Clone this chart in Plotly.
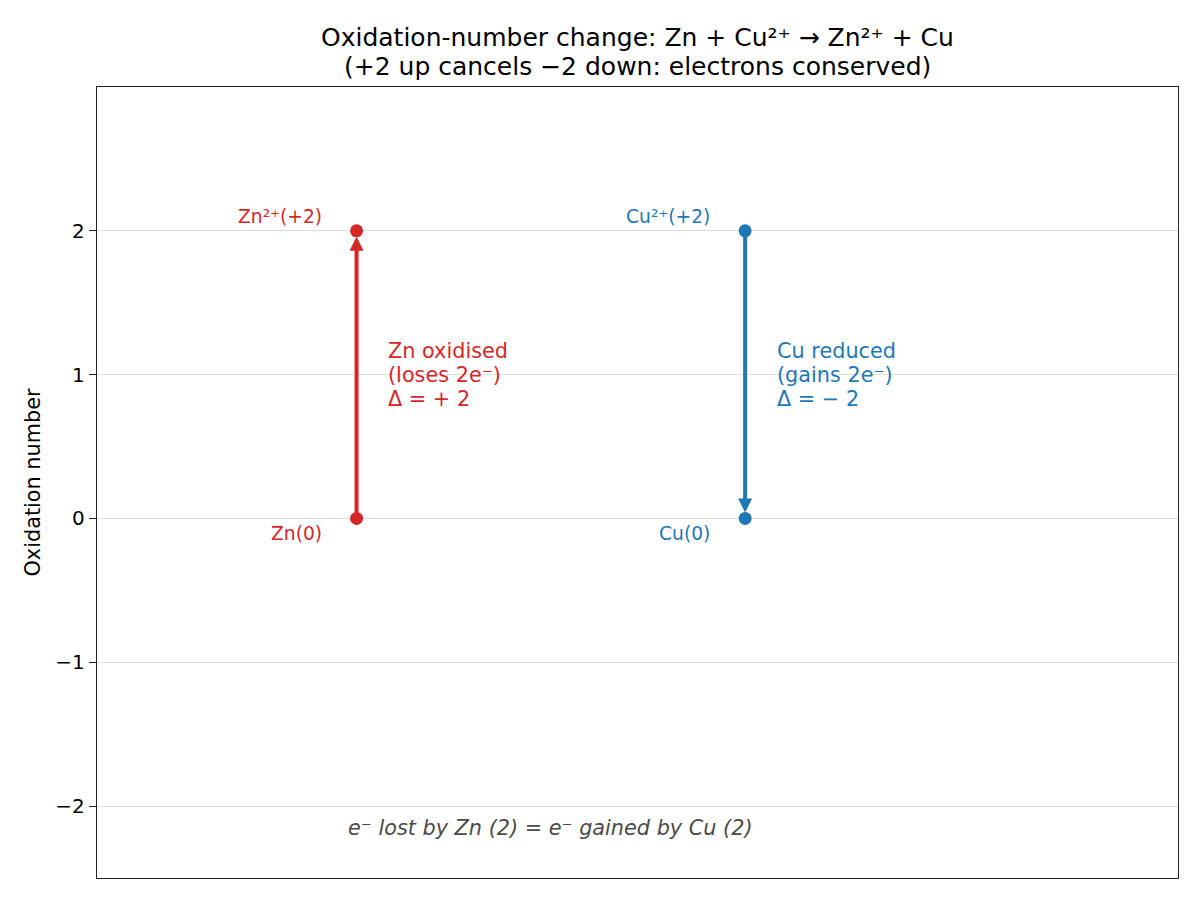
import plotly.graph_objects as go

# ---- data ----
species = ["Zn", "Cu"]
x_pos = [0, 1]
ox_start = [0, 2]          # oxidation number before
ox_end = [2, 0]            # oxidation number after
top_labels = ["Zn²⁺(+2)", "Cu²⁺(+2)"]
bottom_labels = ["Zn(0)", "Cu(0)"]
side_lines = [
    ["Zn oxidised", "(loses 2e⁻)", "Δ = + 2"],
    ["Cu reduced", "(gains 2e⁻)", "Δ = − 2"],
]
series_colors = ["#d62728", "#1f77b4"]
y_ticks = [-2, -1, 0, 1, 2]
y_tick_text = ["−2", "−1", "0", "1", "2"]
title_lines = ["Oxidation-number change: Zn + Cu²⁺ → Zn²⁺ + Cu",
               "(+2 up cancels −2 down: electrons conserved)"]
footer = "e⁻ lost by Zn (2) = e⁻ gained by Cu (2)"

FONT = "DejaVu Sans"

fig = go.Figure()
annotations = []

for i, name in enumerate(species):
    c = series_colors[i]
    x = x_pos[i]
    fig.add_trace(go.Scatter(
        x=[x, x], y=[ox_start[i], ox_end[i]], mode="markers",
        marker=dict(size=13, color=c), showlegend=False, hoverinfo="skip"))
    # arrow
    annotations.append(dict(
        x=x, y=ox_end[i], ax=x, ay=ox_start[i], xref="x", yref="y",
        axref="x", ayref="y", text="", showarrow=True,
        arrowhead=2, arrowsize=0.7, arrowwidth=4, arrowcolor=c,
        standoff=6, startstandoff=0))
    # labels at top and bottom points
    hi = max(ox_start[i], ox_end[i])
    lo = min(ox_start[i], ox_end[i])
    annotations.append(dict(
        x=x - 0.085, y=hi + 0.1, xref="x", yref="y", text=top_labels[i],
        showarrow=False, xanchor="right", yanchor="middle",
        font=dict(family=FONT, size=18.7, color=c)))
    annotations.append(dict(
        x=x - 0.085, y=lo - 0.105, xref="x", yref="y", text=bottom_labels[i],
        showarrow=False, xanchor="right", yanchor="middle",
        font=dict(family=FONT, size=18.7, color=c)))
    # side text, one line at a time
    mid = (ox_start[i] + ox_end[i]) / 2
    for k, line in enumerate(side_lines[i]):
        annotations.append(dict(
            x=x + 0.077, y=mid + (1 - k) * 0.166, xref="x", yref="y",
            text=line, showarrow=False, xanchor="left", yanchor="middle",
            font=dict(family=FONT, size=20.8, color=c)))

# footer
annotations.append(dict(
    x=(x_pos[0] + x_pos[1]) / 2, y=-2.15, xref="x", yref="y",
    text=f"<i>{footer}</i>", showarrow=False, xanchor="center",
    yanchor="middle", font=dict(family=FONT, size=20.8, color="#4a4a4a")))

# title lines
for k, (line, py) in enumerate(zip(title_lines, [1.062, 1.0265])):
    annotations.append(dict(
        x=0.5, y=py, xref="paper", yref="paper", text=line,
        showarrow=False, xanchor="center", yanchor="middle",
        font=dict(family=FONT, size=25, color="#000000")))

fig.update_layout(
    width=1200, height=900,
    margin=dict(l=97, r=22, t=87, b=22, autoexpand=False),
    paper_bgcolor="white", plot_bgcolor="white",
    font=dict(family=FONT, size=20, color="#000000"),
    annotations=annotations,
    showlegend=False,
)
fig.update_xaxes(
    range=[-0.668, 2.114], showgrid=False, zeroline=False,
    showticklabels=False, ticks="",
    showline=True, mirror=True, linecolor="#222222", linewidth=1.3)
fig.update_yaxes(
    range=[-2.5, 3.0], tickvals=y_ticks, ticktext=y_tick_text,
    showgrid=True, gridcolor="#e0e0e0", gridwidth=1.2, zeroline=False,
    ticks="outside", ticklen=7, tickwidth=1.3, tickcolor="#222222",
    tickfont=dict(family=FONT, size=20, color="#000000"),
    showline=True, mirror=True, linecolor="#222222", linewidth=1.3,
    title=dict(text="Oxidation number", standoff=9,
               font=dict(family=FONT, size=20.8, color="#000000")),
    automargin=False)

fig.write_html("out.html")
